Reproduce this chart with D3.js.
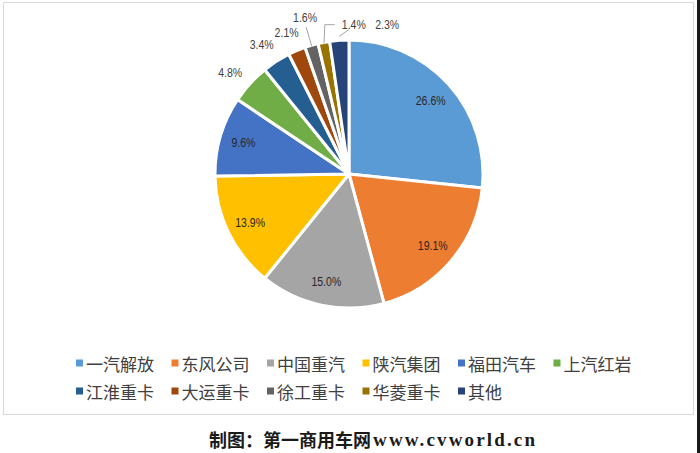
<!DOCTYPE html>
<html>
<head>
<meta charset="utf-8">
<script src="https://cdn.jsdelivr.net/npm/d3@7"></script>
<style>
  html, body { margin: 0; padding: 0; background: #fff; }
  svg { display: block; }
</style>
</head>
<body>
<svg id="chart" width="700" height="453"></svg>
<script>
// ---- data ----
const categories = ["一汽解放", "东风公司", "中国重汽", "陕汽集团", "福田汽车", "上汽红岩",
                    "江淮重卡", "大运重卡", "徐工重卡", "华菱重卡", "其他"];
const values = [26.6, 19.1, 15.0, 13.9, 9.6, 4.8, 3.4, 2.1, 1.6, 1.4, 2.3];
const colors = ["#5B9BD5", "#ED7D31", "#A5A5A5", "#FFC000", "#4472C4", "#70AD47",
                "#255E91", "#9E480E", "#636363", "#997300", "#264478"];
const footerCN = "制图：第一商用车网";
const footerURL = "www.cvworld.cn";

// ---- layout ----
const W = 700, H = 453;
const cx = 349, cy = 174, R = 134;
const svg = d3.select("#chart");

// frame
svg.append("rect").attr("x", 3.5).attr("y", 2.5).attr("width", 690).attr("height", 412)
  .attr("fill", "#fff").attr("stroke", "#d9d9d9").attr("stroke-width", 1);
svg.append("rect").attr("x", 697).attr("y", 0).attr("width", 3).attr("height", H).attr("fill", "#1a1a1a");

const pie = d3.pie().sort(null).value(d => d).startAngle(0).endAngle(2 * Math.PI);
const arcs = pie(values);
const arc = d3.arc().innerRadius(0).outerRadius(R);
const g = svg.append("g").attr("transform", `translate(${cx},${cy})`);

g.selectAll("path.slice").data(arcs).enter().append("path")
  .attr("class", "slice")
  .attr("d", arc)
  .attr("fill", (d, i) => colors[i])
  .attr("stroke", "#fff").attr("stroke-width", 3).attr("stroke-linejoin", "round");

const mid = d => (d.startAngle + d.endAngle) / 2;
const polar = (a, r) => [r * Math.sin(a), -r * Math.cos(a)];
const fmt = v => v.toFixed(1) + "%";

// label placement rules (layout, not data)
const insideR = 110, outsideR = 150;
const outsideNudge = { 5: [-8, 0], 6: [-6, -3], 7: [-4, -3], 8: [-2, -12], 9: [33, -2], 10: [49, 0] };

const labelPos = arcs.map((d, i) => {
  if (values[i] >= 9) return polar(mid(d), insideR);
  const p = polar(mid(d), outsideR);
  const n = outsideNudge[i] || [0, 0];
  return [p[0] + n[0], p[1] + n[1]];
});

// leader lines
const leader = g.append("g").attr("fill", "none").attr("stroke", "#a6a6a6").attr("stroke-width", 1);
{
  const i = 8, a = polar(mid(arcs[i]), R - 1), lp = labelPos[i];
  leader.append("path").attr("d", d3.line()([[lp[0] + 1, lp[1] + 9], a]));
}
{
  const i = 9, a = polar(mid(arcs[i]), R - 1), lp = labelPos[i];
  const left = lp[0] - 14;
  leader.append("path").attr("d", d3.line()([a, [left - 15, lp[1]], [left - 5, lp[1]]]));
}
{
  const i = 10, a = polar(mid(arcs[i]), R + 4), lp = labelPos[9];
  leader.append("path").attr("d", d3.line()([a, [lp[0] - 5, lp[1] + 5]]));
}

// data labels
const lbl = g.selectAll("text.lbl").data(arcs).enter().append("text")
  .attr("class", "lbl")
  .attr("x", (d, i) => labelPos[i][0])
  .attr("y", (d, i) => labelPos[i][1])
  .attr("text-anchor", "middle")
  .attr("dominant-baseline", "central")
  .attr("font-family", "'Liberation Sans', Arial, sans-serif")
  .attr("font-size", 13)
  .attr("fill", (d, i) => values[i] >= 9 ? "#262626" : "#404040")
  .text((d, i) => fmt(values[i]));
lbl.each(function () {
  const w = this.getComputedTextLength();
  d3.select(this).attr("textLength", w * 0.81).attr("lengthAdjust", "spacingAndGlyphs");
});

// legend
const legend = svg.append("g").attr("font-family", "'Noto Sans CJK SC', sans-serif")
  .attr("font-size", 17).attr("fill", "#404040");
const perRow = 6, x0 = 76, rowY = [363, 391], gapAfter = 17.5;
let x = x0, row = 0;
categories.forEach((c, i) => {
  if (i === perRow) { x = x0; row = 1; }
  const y = rowY[row];
  legend.append("rect").attr("x", x).attr("y", y - 3.5).attr("width", 7).attr("height", 7)
    .attr("fill", colors[i]);
  const t = legend.append("text").attr("x", x + 10).attr("y", y)
    .attr("dominant-baseline", "central").text(c);
  x += 10 + t.node().getComputedTextLength() + gapAfter;
});

// footer
const foot = svg.append("text").attr("x", 209).attr("y", 439)
  .attr("text-anchor", "start").attr("dominant-baseline", "central")
  .attr("fill", "#1a1a1a").attr("font-weight", "bold");
foot.append("tspan").attr("font-family", "'Noto Sans CJK SC', sans-serif").attr("font-size", 18).text(footerCN);
const urlSpan = foot.append("tspan").attr("font-family", "'Liberation Serif', serif").attr("font-size", 19)
  .attr("dx", 2).text(footerURL);
urlSpan.attr("textLength", 162).attr("lengthAdjust", "spacing");
</script>
</body>
</html>
